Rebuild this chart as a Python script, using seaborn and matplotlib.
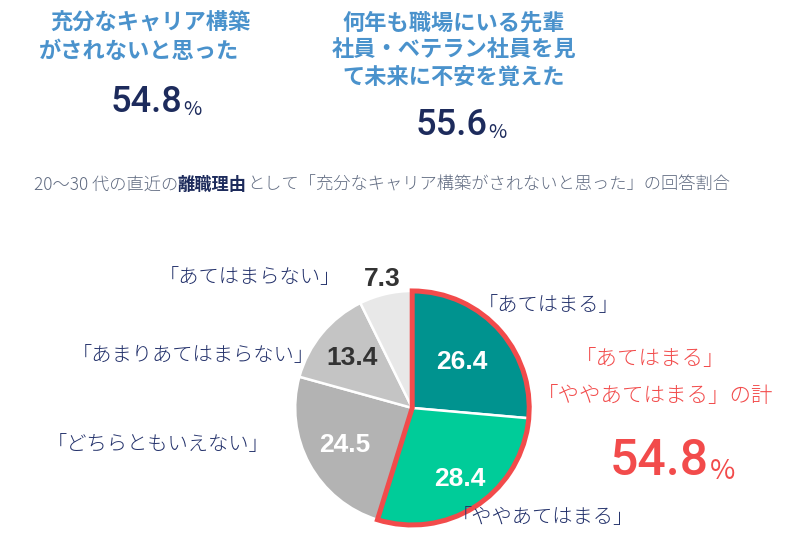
import numpy as np
import pandas as pd
import seaborn as sns
import matplotlib.pyplot as plt

# answer shares (%) for 20-30s who quit because of "no sufficient career building"
answers = ["「あてはまる」", "「ややあてはまる」", "「どちらともいえない」",
           "「あまりあてはまらない」", "「あてはまらない」"]
shares = [26.4, 28.4, 24.5, 13.4, 7.3]
slice_colors = ["#00938f", "#00cc99", "#b3b3b3", "#c4c4c4", "#e8e8e8"]

headline_left = ["充分なキャリア構築", "がされないと思った"]
headline_left_value = "54.8"
headline_right = ["何年も職場にいる先輩", "社員・ベテラン社員を見", "て未来に不安を覚えた"]
headline_right_value = "55.6"
total_value = "54.8"

JP = ["Noto Sans CJK JP", "DejaVu Sans"]
NUM = ["Roboto", "DejaVu Sans"]
BLUE = "#4a92cc"
NAVY = "#1d2b5c"
RED = "#f24b4b"
GRAY = "#5f6a80"


def configStyle():
    sns.set_theme(style="white")
    plt.rcParams['font.family'] = JP
    return True


def pct_text(fig, x, y, value, color, size, weight="medium"):
    t = fig.text(x, y, value, ha="left", va="baseline", fontsize=size,
                 color=color, family=NUM, weight=weight)
    plt.gca().annotate("%", xy=(1, 0), xycoords=t, xytext=(0.5, 0),
                       textcoords="offset points", va="bottom", ha="left",
                       fontsize=size * 0.55, color=color, family=JP)
    return t


def plotPie():
    fig = plt.figure(figsize=(8, 5.46), dpi=100)

    # headlines
    fig.text(0.188, 0.958, headline_left[0], ha="center", va="center",
             fontsize=16, color=BLUE, weight="bold")
    fig.text(0.174, 0.905, headline_left[1], ha="center", va="center",
             fontsize=16, color=BLUE, weight="bold")
    for i, line in enumerate(headline_right):
        fig.text(0.567, 0.958 - i * 0.05, line, ha="center", va="center",
                 fontsize=16, color=BLUE, weight="bold")

    ax = fig.add_axes([0.369, 0.0385, 0.2925, 0.4286])
    plt.sca(ax)
    pct_text(fig, 0.138, 0.795, headline_left_value, NAVY, 26)
    pct_text(fig, 0.52, 0.752, headline_right_value, NAVY, 26)

    # subtitle in three colored parts
    s1 = fig.text(0.042, 0.652, "20〜30 代の直近の", ha="left", va="baseline",
                  fontsize=12.4, color=GRAY, weight="light")
    s2 = ax.annotate("離職理由", xy=(1, 0), xycoords=s1, va="bottom", ha="left",
                     fontsize=12.4, color=NAVY, weight="bold")
    ax.annotate("として「充分なキャリア構築がされないと思った」の回答割合",
                xy=(1, 0), xycoords=s2, va="bottom", ha="left",
                fontsize=12.4, color=GRAY, weight="light")

    df = pd.DataFrame({"answer": answers, "share": shares})
    wedges, texts = ax.pie(df["share"], colors=slice_colors, startangle=90,
                           counterclock=False, labels=[f"{v:.1f}" for v in df["share"]],
                           labeldistance=1.0,
                           wedgeprops=dict(edgecolor="white", linewidth=1.8))
    dist = [0.58, 0.73, 0.66, 0.67, 1.13]
    tcolors = ["white", "white", "white", "#333333", "#333333"]
    for t, d, c in zip(texts, dist, tcolors):
        x, y = t.get_position()
        t.set_position((x * d, y * d))
        t.set_ha("center")
        t.set_va("center")
        t.set_fontsize(19)
        t.set_color(c)
        t.set_family(["Liberation Sans", "DejaVu Sans"])
        t.set_weight("bold")

    # red outline around "あてはまる" + "ややあてはまる"
    top2 = [sum(shares[:2]), sum(shares[2:])]
    outline, _ = ax.pie(top2, colors=["none", "none"], startangle=90,
                        counterclock=False,
                        wedgeprops=dict(edgecolor="none", linewidth=0))
    outline[0].set_edgecolor(RED)
    outline[0].set_linewidth(3.6)
    outline[0].set_joinstyle("miter")
    outline[0].set_clip_on(False)
    ax.set_xlim(-1, 1)
    ax.set_ylim(-1, 1)
    ax.set_aspect("equal")
    ax.axis("off")

    # category labels
    lab = dict(ha="left", va="center", fontsize=14.6, color="#22306a", weight="light")
    fig.text(0.597, 0.441, answers[0], **lab)
    fig.text(0.565, 0.053, answers[1], **lab)
    fig.text(0.059, 0.185, answers[2], **lab)
    fig.text(0.090, 0.349, answers[3], **lab)
    fig.text(0.198, 0.491, answers[4], **lab)

    # red total
    fig.text(0.813, 0.343, "「あてはまる」", ha="center", va="center",
             fontsize=15.5, color=RED, weight="light")
    fig.text(0.819, 0.275, "「ややあてはまる」の計", ha="center", va="center",
             fontsize=15.5, color=RED, weight="light")
    pct_text(fig, 0.762, 0.13, total_value, RED, 36)

    plt.savefig("out.png", dpi=100)


configStyle()
plotPie()
